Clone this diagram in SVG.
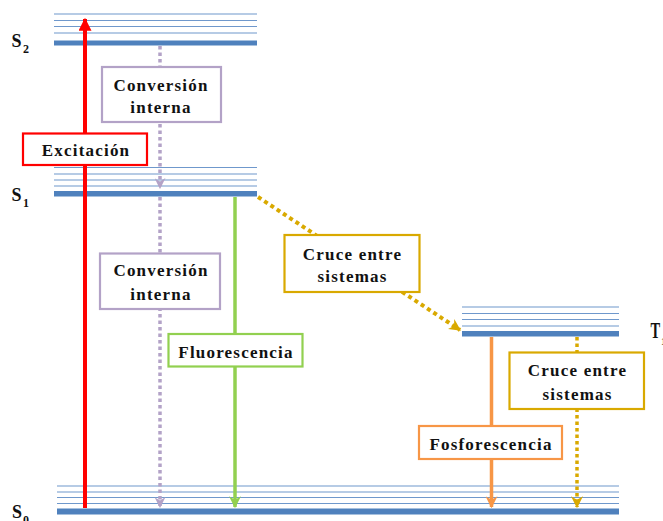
<svg xmlns="http://www.w3.org/2000/svg" width="663" height="521" viewBox="0 0 663 521">
<style>
.thin{stroke:#6F98CC;stroke-width:1.2;fill:none}
.thick{fill:#4F81BD}
.lbl{font-family:"Liberation Serif","Times New Roman",serif;font-weight:bold;font-size:17px;letter-spacing:1.2px;text-anchor:middle;fill:#111}
.st{font-family:"Liberation Serif","Times New Roman",serif;font-weight:bold;fill:#111}
.box{fill:#fff;stroke-width:2.2}
</style>
<defs>
<marker id="arR" viewBox="0 0 10 10" refX="9" refY="5" markerUnits="userSpaceOnUse" markerWidth="13" markerHeight="13" orient="auto"><path d="M0,0 L10,5 L0,10 z" fill="#FF0000"/></marker>
<marker id="arP" viewBox="0 0 10 10" refX="9" refY="5" markerUnits="userSpaceOnUse" markerWidth="11" markerHeight="11" orient="auto"><path d="M0,0 L10,5 L0,10 L3,5 z" fill="#B3A2C7"/></marker>
<marker id="arG" viewBox="0 0 10 10" refX="9" refY="5" markerUnits="userSpaceOnUse" markerWidth="12" markerHeight="12" orient="auto"><path d="M0,0 L10,5 L0,10 L3,5 z" fill="#92D050"/></marker>
<marker id="arO" viewBox="0 0 10 10" refX="9" refY="5" markerUnits="userSpaceOnUse" markerWidth="12" markerHeight="12" orient="auto"><path d="M0,0 L10,5 L0,10 L3,5 z" fill="#F79646"/></marker>
<marker id="arY" viewBox="0 0 10 10" refX="9" refY="5" markerUnits="userSpaceOnUse" markerWidth="12" markerHeight="12" orient="auto"><path d="M0,0 L10,5 L0,10 L3,5 z" fill="#D9A900"/></marker>
</defs>

<g id="level-S2">
<path class="thin" d="M54,14H257M54,20.5H257M54,26.5H257M54,33H257"/>
<rect class="thick" x="54" y="40.5" width="203" height="5"/>
<text class="st" x="11.5" y="46.5" font-size="18">S</text><text class="st" x="23" y="52.5" font-size="12">2</text>
</g>
<g id="level-S1">
<path class="thin" d="M54,167.5H257M54,174H257M54,180H257M54,186H257"/>
<rect class="thick" x="54" y="191" width="203" height="5.5"/>
<text class="st" x="11.5" y="200.5" font-size="18">S</text><text class="st" x="23" y="206.5" font-size="12">1</text>
</g>
<g id="level-T1">
<path class="thin" d="M462,307H619M462,313.5H619M462,319.5H619M462,326H619"/>
<rect class="thick" x="462" y="331" width="157" height="5.5"/>
<text class="st" transform="translate(650.5,338) scale(0.85,1.3)" font-size="17">T</text><text class="st" x="661" y="345" font-size="11">1</text>
</g>
<g id="level-S0">
<path class="thin" d="M57,486H619M57,492H619M57,497.5H619M57,503.5H619"/>
<rect class="thick" x="57" y="508.5" width="562" height="6"/>
<text class="st" x="12" y="517.5" font-size="18">S</text><text class="st" x="23" y="524" font-size="12">0</text>
</g>

<g id="connectors">
<line x1="85" y1="508" x2="85" y2="19" stroke="#FF0000" stroke-width="4" marker-end="url(#arR)"/>
<line x1="160" y1="46" x2="160" y2="188" stroke="#B3A2C7" stroke-width="3.5" stroke-dasharray="3.5 3" marker-end="url(#arP)"/>
<line x1="160" y1="197" x2="160" y2="507" stroke="#B3A2C7" stroke-width="3.5" stroke-dasharray="3.5 3" marker-end="url(#arP)"/>
<line x1="235" y1="197" x2="235" y2="507" stroke="#92D050" stroke-width="3.5" marker-end="url(#arG)"/>
<line x1="258" y1="197" x2="460" y2="330" stroke="#D9A900" stroke-width="4" stroke-dasharray="4 3.5" marker-end="url(#arY)"/>
<line x1="491.5" y1="337" x2="491.5" y2="507" stroke="#F79646" stroke-width="3.5" marker-end="url(#arO)"/>
<line x1="577" y1="337" x2="577" y2="507" stroke="#D9A900" stroke-width="3.5" stroke-dasharray="3.5 3" marker-end="url(#arY)"/>
</g>

<g id="box-excitacion">
<rect class="box" x="23" y="133.5" width="124" height="31.5" stroke="#FF0000"/>
<text class="lbl" x="86" y="156">Excitación</text>
</g>
<g id="box-conversion-1">
<rect class="box" x="102" y="67" width="119" height="55" stroke="#B3A2C7"/>
<text class="lbl" x="161" y="90.5">Conversión</text>
<text class="lbl" x="161" y="113">interna</text>
</g>
<g id="box-conversion-2">
<rect class="box" x="100" y="253.5" width="120" height="55.5" stroke="#B3A2C7"/>
<text class="lbl" x="161" y="276">Conversión</text>
<text class="lbl" x="161" y="300">interna</text>
</g>
<g id="box-fluorescencia">
<rect class="box" x="168.5" y="334" width="134" height="32.5" stroke="#92D050"/>
<text class="lbl" x="236" y="357.5">Fluorescencia</text>
</g>
<g id="box-cruce-1">
<rect class="box" x="284.5" y="235" width="135" height="57" stroke="#D9A900"/>
<text class="lbl" x="352.5" y="259.5">Cruce entre</text>
<text class="lbl" x="352.5" y="282">sistemas</text>
</g>
<g id="box-fosforescencia">
<rect class="box" x="419" y="426" width="143" height="33" stroke="#F79646"/>
<text class="lbl" x="491" y="449.5">Fosforescencia</text>
</g>
<g id="box-cruce-2">
<rect class="box" x="509.5" y="352.5" width="134.5" height="56.5" stroke="#D9A900"/>
<text class="lbl" x="577.5" y="376">Cruce entre</text>
<text class="lbl" x="577.5" y="399.5">sistemas</text>
</g>
</svg>
